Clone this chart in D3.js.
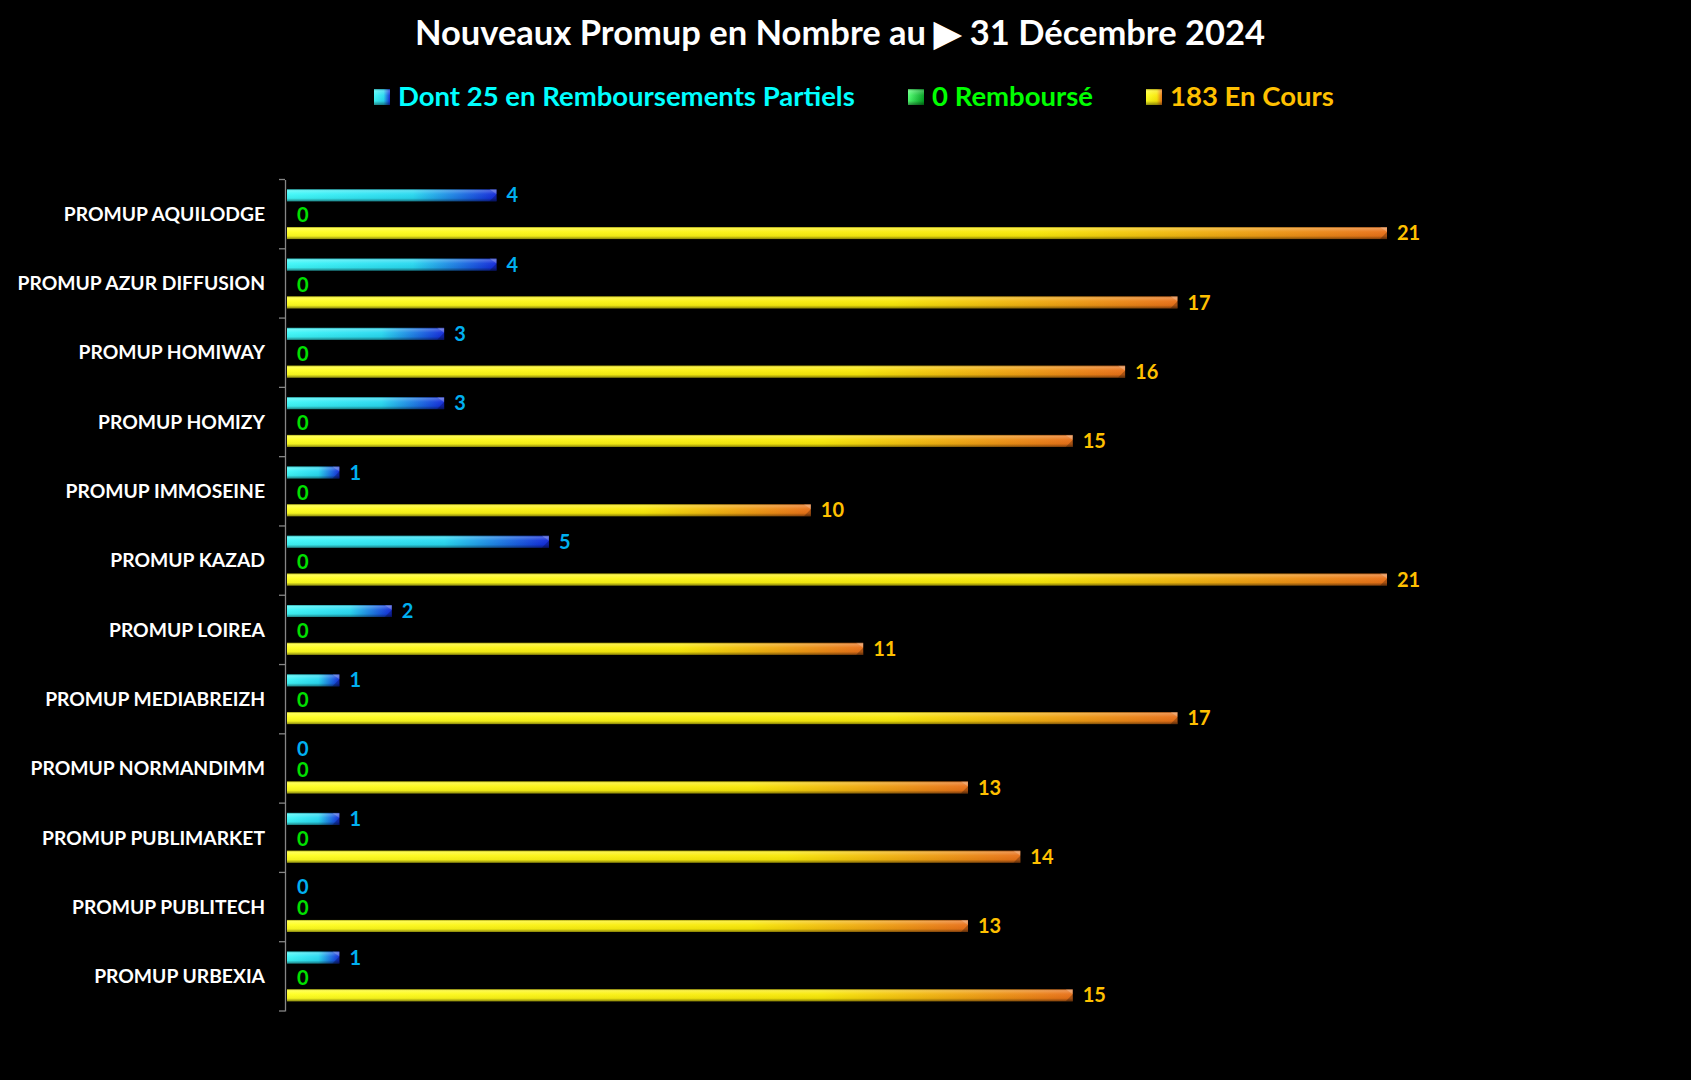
<!DOCTYPE html>
<html>
<head>
<meta charset="utf-8">
<script src="https://cdn.jsdelivr.net/npm/d3@7"></script>
<style>
  html, body { margin: 0; padding: 0; background: #000; }
  svg { display: block; font-family: Lato, "Open Sans", sans-serif; font-weight: bold; }
</style>
</head>
<body>
<div id="chart"></div>
<script>
var categories = ["PROMUP AQUILODGE", "PROMUP AZUR DIFFUSION", "PROMUP HOMIWAY", "PROMUP HOMIZY",
  "PROMUP IMMOSEINE", "PROMUP KAZAD", "PROMUP LOIREA", "PROMUP MEDIABREIZH",
  "PROMUP NORMANDIMM", "PROMUP PUBLIMARKET", "PROMUP PUBLITECH", "PROMUP URBEXIA"];
var partiels  = [4, 4, 3, 3, 1, 5, 2, 1, 0, 1, 0, 1];
var rembourse = [0, 0, 0, 0, 0, 0, 0, 0, 0, 0, 0, 0];
var enCours   = [21, 17, 16, 15, 10, 21, 11, 17, 13, 14, 13, 15];
var seriesNames = ["Dont 25 en Remboursements Partiels", "0 Remboursé", "183 En Cours"];
var titleText = "Nouveaux Promup en Nombre au \u25B6 31 Décembre 2024";

var width = 1691, height = 1080;
var series = [
  { key: "partiels", name: seriesNames[0], values: partiels, label: "#00B0F0", legend: "#00FFFF",
    stops: [["0%", "#3ff8f8"], ["60%", "#28d8f0"], ["100%", "#1228d8"]] },
  { key: "rembourse", name: seriesNames[1], values: rembourse, label: "#00E000", legend: "#00FF00",
    stops: [["0%", "#50ff70"], ["100%", "#00a020"]] },
  { key: "encours", name: seriesNames[2], values: enCours, label: "#FFC000", legend: "#FFC000",
    stops: [["0%", "#ffff20"], ["68%", "#f8e808"], ["100%", "#e87018"]] }
];

var svg = d3.select("#chart").append("svg")
  .attr("width", width)
  .attr("height", height);

svg.append("rect").attr("width", width).attr("height", height).attr("fill", "#000");

var defs = svg.append("defs");
series.forEach(function (s) {
  var g = defs.append("linearGradient").attr("id", "grad-" + s.key)
    .attr("x1", "0%").attr("x2", "100%").attr("y1", "0%").attr("y2", "0%");
  s.stops.forEach(function (st) {
    g.append("stop").attr("offset", st[0]).attr("stop-color", st[1]);
  });
});
// shading haut/bas pour l'effet 3D
var shade = defs.append("linearGradient").attr("id", "shade")
  .attr("x1", "0%").attr("x2", "0%").attr("y1", "0%").attr("y2", "100%");
shade.append("stop").attr("offset", "0%").attr("stop-color", "#000").attr("stop-opacity", 0.35);
shade.append("stop").attr("offset", "12%").attr("stop-color", "#fff").attr("stop-opacity", 0.25);
shade.append("stop").attr("offset", "40%").attr("stop-color", "#fff").attr("stop-opacity", 0.05);
shade.append("stop").attr("offset", "75%").attr("stop-color", "#000").attr("stop-opacity", 0.05);
shade.append("stop").attr("offset", "100%").attr("stop-color", "#000").attr("stop-opacity", 0.45);

// titre
svg.append("text")
  .attr("x", 840).attr("y", 45)
  .attr("text-anchor", "middle")
  .attr("fill", "#fff")
  .style("font-size", "34.5px")
  .text(titleText);

// légende
var legendX = [374, 908, 1146];
var legend = svg.append("g").attr("class", "legend");
series.forEach(function (s, i) {
  var lg = legend.append("g").attr("transform", "translate(" + legendX[i] + ",89)");
  lg.append("rect").attr("width", 16).attr("height", 16).attr("fill", "url(#grad-" + s.key + ")");
  lg.append("rect").attr("width", 16).attr("height", 16).attr("fill", "url(#shade)");
  lg.append("text")
    .attr("x", 24).attr("y", 17)
    .attr("fill", s.legend)
    .style("font-size", "27.5px")
    .text(s.name);
});

// échelles
var x = d3.scaleLinear().domain([0, 21]).range([287, 1387]);
var y = d3.scaleBand().domain(categories).range([179.5, 1011]).paddingInner(0).paddingOuter(0);
var ySub = d3.scaleBand().domain(series.map(function (s) { return s.key; }))
  .range([0, y.bandwidth()]).paddingInner(0.365).paddingOuter(0.516);

// axe vertical
var yAxis = d3.axisLeft(y).tickSize(0).tickFormat("");
var axisG = svg.append("g").attr("transform", "translate(285,0)").call(yAxis);
axisG.select(".domain").attr("stroke", "#868686").attr("stroke-width", 1.3);
// graduations entre les catégories
var bounds = categories.map(function (c) { return y(c); }).concat([y.range()[1]]);
axisG.selectAll(".sep").data(bounds).enter().append("line")
  .attr("x1", -6).attr("x2", 0)
  .attr("y1", function (d) { return d; }).attr("y2", function (d) { return d; })
  .attr("stroke", "#868686").attr("stroke-width", 1.3);

// étiquettes des catégories
svg.append("g").selectAll("text").data(categories).enter().append("text")
  .attr("x", 265)
  .attr("y", function (d) { return y(d) + y.bandwidth() / 2; })
  .attr("dy", "0.35em")
  .attr("text-anchor", "end")
  .attr("fill", "#fff")
  .style("font-size", "19.3px")
  .text(function (d) { return d; });

// barres
var groups = svg.append("g").selectAll("g").data(categories).enter().append("g")
  .attr("transform", function (d) { return "translate(0," + y(d) + ")"; });

series.forEach(function (s, si) {
  groups.each(function (c, i) {
    var g = d3.select(this);
    var v = s.values[i];
    var by = ySub(s.key), bh = ySub.bandwidth();
    var x0 = x(0), x1 = x(v);
    if (v > 0) {
      g.append("rect")
        .attr("x", x0).attr("y", by)
        .attr("width", x1 - x0).attr("height", bh)
        .attr("fill", "url(#grad-" + s.key + ")");
      g.append("rect")
        .attr("x", x0).attr("y", by)
        .attr("width", x1 - x0).attr("height", bh)
        .attr("fill", "url(#shade)");
      // biseau en bout de barre
      g.append("path")
        .attr("d", "M" + (x1 - 7) + "," + (by + bh) + "L" + x1 + "," + (by + bh - 7) + "L" + x1 + "," + (by + bh) + "Z")
        .attr("fill", "#000").attr("fill-opacity", 0.25);
      g.append("path")
        .attr("d", "M" + (x1 - 7) + "," + by + "L" + x1 + "," + by + "L" + x1 + "," + (by + 5) + "Z")
        .attr("fill", "#fff").attr("fill-opacity", 0.2);
    }
    // les deux "0" empilés : on les écarte d'un pixel
    var nudge = (v === 0 && si === 0) ? -1 : (v === 0 && si === 1 ? 1 : 0);
    g.append("text")
      .attr("x", x1 + 10)
      .attr("y", by + bh / 2 + nudge)
      .attr("dy", "0.36em")
      .attr("fill", s.label)
      .style("font-size", "20px")
      .text(v);
  });
});
</script>
</body>
</html>
